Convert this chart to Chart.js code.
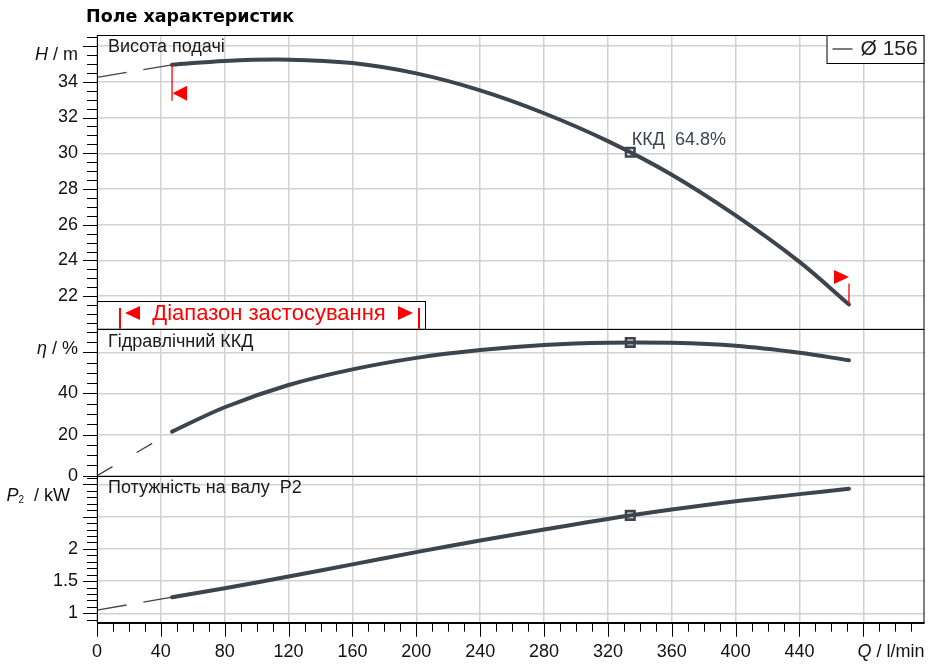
<!DOCTYPE html>
<html>
<head>
<meta charset="utf-8">
<script src="https://cdn.jsdelivr.net/npm/chart.js@4.4.1/dist/chart.umd.min.js"></script>
<style>
  html, body { margin: 0; padding: 0; background: #fff; }
</style>
</head>
<body>
<canvas id="chart" width="941" height="669"></canvas>
<script>
'use strict';

// flow Q in l/min at the grid lines
const flowPoints = [47, 80, 120, 160, 200, 240, 280, 320, 360, 400, 440, 471];
const headValues = [34.95, 35.17, 35.24, 35.05, 34.47, 33.52, 32.24, 30.68, 28.8, 26.52, 23.92, 21.53];
const effValues = [21.45, 33.3, 44.1, 51.7, 57.3, 61.1, 63.6, 64.7, 64.6, 63.2, 59.8, 56.1];
const powerValues = [1.25, 1.39, 1.57, 1.76, 1.95, 2.13, 2.30, 2.465, 2.61, 2.74, 2.85, 2.935];

// thin dashed part from Q = 0 to the start of the allowed range
const extFlow = [0, 47];
const extHead = [34.25, 34.95];
const extEff = [0, 21.45];
const extPower = [1.05, 1.25];

// best efficiency point
const dutyFlow = 334;
const dutyHead = 30.06;
const dutyEff = 64.8;
const dutyPower = 2.52;

// tick labels that are replaced by the axis titles
const hiddenX = [480];
const hiddenH = [36];
const hiddenEff = [60];
const hiddenPower = [2.5, 3];

const curveColor = '#3c444d';
const gridColor = '#d2d2d2';
const textColor = '#111';
const labelFont = "'Liberation Sans', Arial, sans-serif";

Chart.defaults.font.family = labelFont;

function pts(xs, ys) {
  return xs.map(function (x, i) { return { x: x, y: ys[i] }; });
}

function mainLine(xs, ys, axis) {
  return {
    data: pts(xs, ys),
    yAxisID: axis,
    borderColor: curveColor,
    borderWidth: 4,
    borderCapStyle: 'round',
    pointRadius: 0,
    tension: 0.35,
    fill: false,
  };
}

function dashLine(xs, ys, axis, dash) {
  return {
    data: pts(xs, ys),
    yAxisID: axis,
    borderColor: curveColor,
    borderWidth: 1.3,
    borderDash: dash,
    pointRadius: 0,
    fill: false,
  };
}

function dutyMark(y, axis) {
  return {
    data: [{ x: dutyFlow, y: y }],
    yAxisID: axis,
    showLine: false,
    pointStyle: 'rect',
    pointRadius: 6,
    pointBorderWidth: 2.6,
    pointBorderColor: curveColor,
    pointBackgroundColor: '#fff',
  };
}

function hideLabel(list) {
  return function (value) {
    for (let i = 0; i < list.length; i++) {
      if (Math.abs(list[i] - value) < 1e-6) return '';
    }
    return String(value);
  };
}

function yAxis(min, max, step, weight, stackWeight, hidden) {
  return {
    type: 'linear',
    position: 'left',
    stack: 'panels',
    stackWeight: stackWeight,
    weight: weight,
    min: min,
    max: max,
    afterFit: function (scale) { scale.width = 97; },
    border: { display: false },
    grid: { color: gridColor, lineWidth: 1.5, drawTicks: false },
    ticks: {
      stepSize: step,
      includeBounds: false,
      maxTicksLimit: 50,
      autoSkip: false,
      padding: 19,
      color: textColor,
      font: { size: 18 },
      callback: hideLabel(hidden),
    },
  };
}

function drawParts(ctx, parts, right, y) {
  let total = 0;
  parts.forEach(function (p) {
    ctx.font = p.font;
    total += ctx.measureText(p.text).width;
  });
  let x = right - total;
  parts.forEach(function (p) {
    ctx.font = p.font;
    ctx.fillText(p.text, x, y + (p.dy || 0));
    x += ctx.measureText(p.text).width;
  });
}

function redTriangle(ctx, tipX, tipY, baseX, half) {
  ctx.beginPath();
  ctx.moveTo(tipX, tipY);
  ctx.lineTo(baseX, tipY - half);
  ctx.lineTo(baseX, tipY + half);
  ctx.closePath();
  ctx.fill();
}

const overlay = {
  id: 'overlay',
  afterDraw: function (chart) {
    const ctx = chart.ctx;
    const area = chart.chartArea;
    const xs = chart.scales.x;
    const yH = chart.scales.yH;
    const yE = chart.scales.yE;
    const yP = chart.scales.yP;

    ctx.save();

    // minor and major tick marks
    ctx.strokeStyle = '#000';
    ctx.lineWidth = 1;
    [[yH, 0.5, 2], [yE, 5, 20], [yP, 0.1, 0.5]].forEach(function (cfg) {
      const s = cfg[0], minor = cfg[1], major = cfg[2];
      for (let i = Math.ceil(s.min / minor - 1e-6); i * minor <= s.max + 1e-9; i++) {
        const v = i * minor;
        const isMajor = Math.abs(v / major - Math.round(v / major)) < 1e-6;
        const y = Math.round(s.getPixelForValue(v)) + 0.5;
        ctx.beginPath();
        ctx.moveTo(area.left, y);
        ctx.lineTo(area.left - (isMajor ? 14 : 10), y);
        ctx.stroke();
      }
    });
    for (let q = 0; q <= xs.max + 1e-9; q += 10) {
      const x = Math.round(xs.getPixelForValue(q)) + 0.5;
      ctx.beginPath();
      ctx.moveTo(x, area.bottom);
      ctx.lineTo(x, area.bottom + (q % 40 === 0 ? 14 : 9));
      ctx.stroke();
    }

    // application range box
    const boxTop = 301;
    const boxRight = 425;
    ctx.fillStyle = '#fff';
    ctx.fillRect(area.left, boxTop, boxRight - area.left, yH.bottom - boxTop);
    ctx.strokeStyle = '#000';
    ctx.lineWidth = 1;
    ctx.strokeRect(area.left + 0.5, boxTop + 0.5, boxRight - area.left, yH.bottom - boxTop);

    ctx.fillStyle = '#ff0000';
    ctx.strokeStyle = '#ff0000';
    ctx.lineWidth = 2;
    [120, 419].forEach(function (x) {
      ctx.beginPath();
      ctx.moveTo(x, 308);
      ctx.lineTo(x, yH.bottom);
      ctx.stroke();
    });
    redTriangle(ctx, 125, 313, 140, 7);
    redTriangle(ctx, 413, 313, 398, 7);
    ctx.font = '22px ' + labelFont;
    ctx.textAlign = 'center';
    ctx.textBaseline = 'middle';
    ctx.fillText('Діапазон застосування', 269, 314);

    // range markers on the head curve
    const sx = xs.getPixelForValue(flowPoints[0]);
    const sy = yH.getPixelForValue(headValues[0]);
    const ex = xs.getPixelForValue(flowPoints[flowPoints.length - 1]);
    const ey = yH.getPixelForValue(headValues[headValues.length - 1]);
    ctx.lineWidth = 1.3;
    ctx.beginPath();
    ctx.moveTo(sx, sy);
    ctx.lineTo(sx, sy + 36);
    ctx.moveTo(ex, ey);
    ctx.lineTo(ex, ey - 21);
    ctx.stroke();
    redTriangle(ctx, sx + 0.5, sy + 28.5, sx + 15, 7.5);
    redTriangle(ctx, ex, ey - 27.5, ex - 15, 7);

    // panel frames
    ctx.strokeStyle = '#000';
    ctx.lineWidth = 1;
    [yH, yE, yP].forEach(function (s) {
      ctx.strokeRect(area.left + 0.5, Math.round(s.top) + 0.5, area.right - area.left - 1, s.bottom - s.top);
    });
    ctx.lineWidth = 1.5;
    ctx.beginPath();
    ctx.moveTo(area.left, area.bottom);
    ctx.lineTo(area.right, area.bottom);
    ctx.stroke();

    // legend
    const lgLeft = area.right - 98;
    ctx.fillStyle = '#fff';
    ctx.fillRect(lgLeft, area.top, 98, 28);
    ctx.strokeStyle = '#000';
    ctx.lineWidth = 1;
    ctx.strokeRect(lgLeft + 0.5, area.top + 0.5, 97, 28);
    ctx.strokeStyle = '#333';
    ctx.lineWidth = 1.3;
    ctx.beginPath();
    ctx.moveTo(lgLeft + 6, area.top + 14);
    ctx.lineTo(lgLeft + 26, area.top + 14);
    ctx.stroke();
    ctx.fillStyle = '#222';
    ctx.font = '21px ' + labelFont;
    ctx.textAlign = 'left';
    ctx.textBaseline = 'middle';
    ctx.fillText('Ø 156', lgLeft + 34, area.top + 14);

    // title and panel names
    ctx.fillStyle = '#000';
    ctx.font = "bold 17.5px 'DejaVu Sans', sans-serif";
    ctx.fillText('Поле характеристик', 86, 17);
    ctx.fillStyle = '#1a1a1a';
    ctx.font = '18px ' + labelFont;
    ctx.fillText('Висота подачі', 108, yH.top + 12);
    ctx.fillText('Гідравлічний ККД', 108, yE.top + 13);
    ctx.fillText('Потужність на валу  P2', 108, yP.top + 12);

    // best efficiency note
    ctx.fillStyle = curveColor;
    ctx.fillText('ККД  ' + dutyEff.toFixed(1) + '%',
      xs.getPixelForValue(dutyFlow) + 1.5, yH.getPixelForValue(dutyHead) - 12);

    // axis titles
    ctx.fillStyle = textColor;
    const reg = '18px ' + labelFont;
    const ital = 'italic 18px ' + labelFont;
    drawParts(ctx, [{ text: 'H', font: ital }, { text: ' / m', font: reg }], 78, 55);
    drawParts(ctx, [{ text: 'η', font: ital }, { text: ' / %', font: reg }], 78, 349);
    drawParts(ctx, [
      { text: 'P', font: ital },
      { text: '2', font: '10px ' + labelFont, dy: 4 },
      { text: '  / kW', font: reg },
    ], 70, 496);
    drawParts(ctx, [{ text: 'Q', font: ital }, { text: ' / l/min', font: reg }], area.right, 652);

    ctx.restore();
  },
};

new Chart(document.getElementById('chart'), {
  type: 'line',
  data: {
    datasets: [
      mainLine(flowPoints, headValues, 'yH'),
      dashLine(extFlow, extHead, 'yH', [30, 17]),
      dutyMark(dutyHead, 'yH'),
      mainLine(flowPoints, effValues, 'yE'),
      dashLine(extFlow, extEff, 'yE', [18, 28]),
      dutyMark(dutyEff, 'yE'),
      mainLine(flowPoints, powerValues, 'yP'),
      dashLine(extFlow, extPower, 'yP', [30, 17]),
      dutyMark(dutyPower, 'yP'),
    ],
  },
  options: {
    responsive: false,
    animation: false,
    events: [],
    layout: {
      autoPadding: false,
      padding: { left: 0, right: 16.5, top: 35, bottom: 0 },
    },
    plugins: {
      legend: { display: false },
      tooltip: { enabled: false },
    },
    scales: {
      x: {
        type: 'linear',
        min: 0,
        max: 518.3,
        afterFit: function (scale) { scale.height = 46.3; },
        border: { display: false },
        grid: { color: gridColor, lineWidth: 1.5, drawTicks: false },
        ticks: {
          stepSize: 40,
          includeBounds: false,
          maxTicksLimit: 50,
          autoSkip: false,
          padding: 14,
          color: textColor,
          font: { size: 18, lineHeight: 1.7 },
          maxRotation: 0,
          callback: hideLabel(hiddenX),
        },
      },
      yP: yAxis(0.854, 3.135, 0.5, 1, 1, hiddenPower),
      yE: yAxis(0, 71.4, 20, 2, 1, hiddenEff),
      yH: yAxis(20.17, 36.62, 2, 3, 2, hiddenH),
    },
  },
  plugins: [overlay],
});
</script>
</body>
</html>
